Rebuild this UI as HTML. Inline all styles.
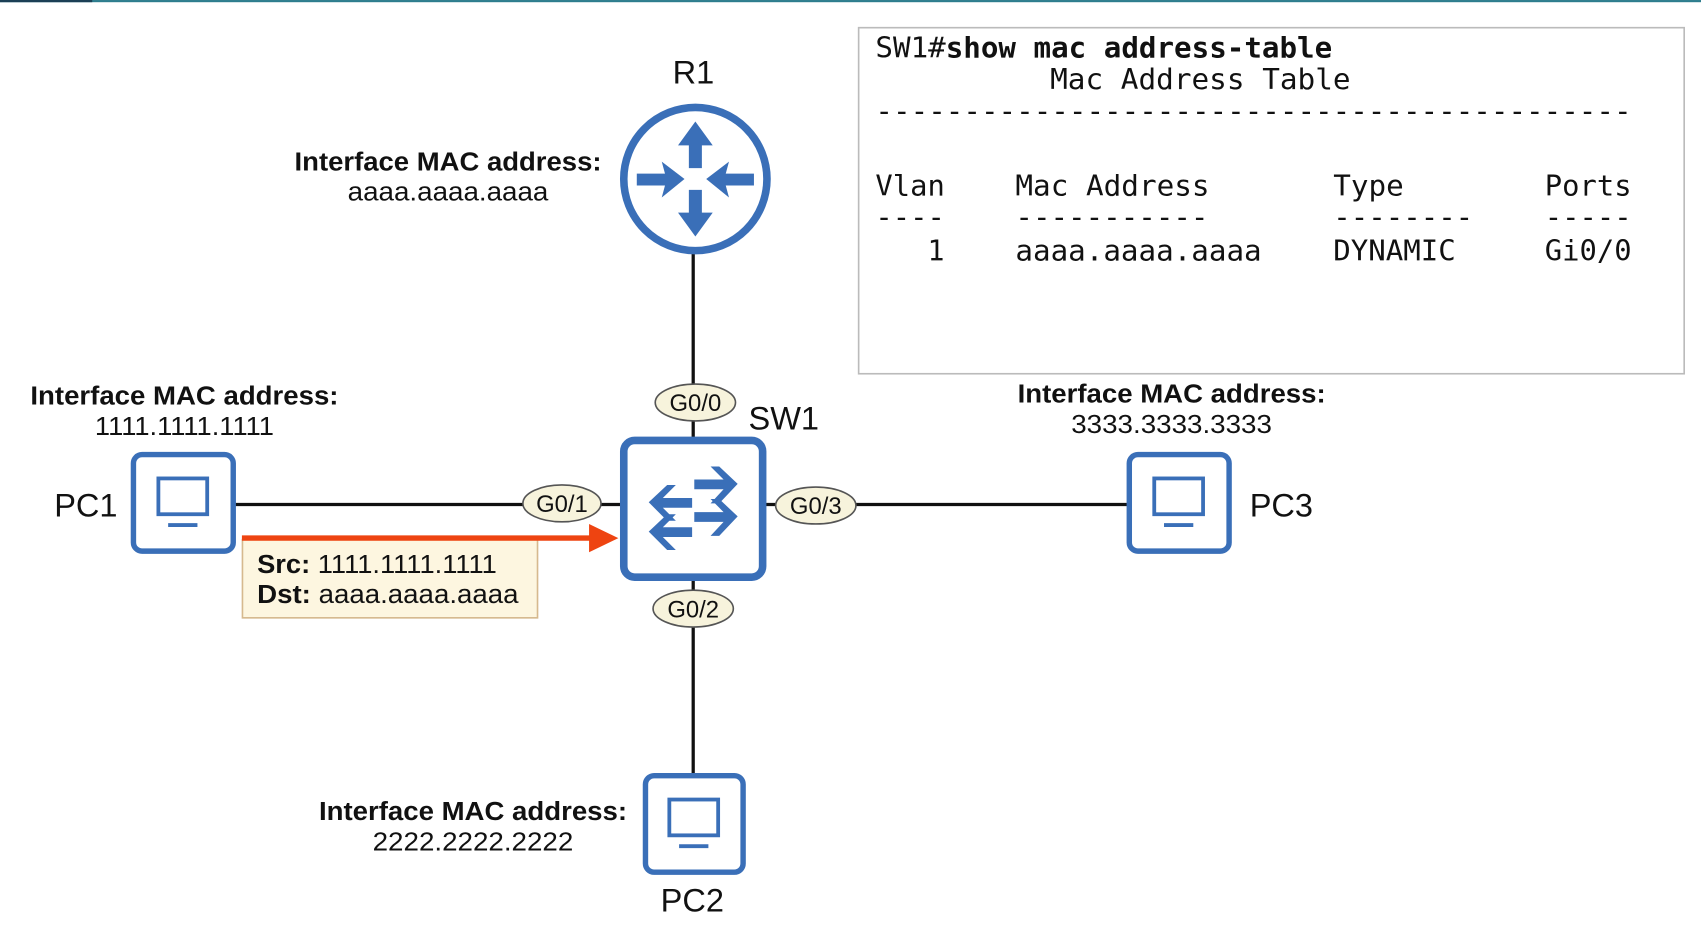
<!DOCTYPE html>
<html><head><meta charset="utf-8"><style>
html,body{margin:0;padding:0;background:#fff;}
svg{display:block;}
text{font-family:"Liberation Sans",sans-serif;fill:#111;}
g.m text{font-family:"DejaVu Sans Mono","Liberation Mono",monospace;font-size:26px;}
</style></head><body>
<svg width="1701" height="933" viewBox="0 0 1568 860" xmlns="http://www.w3.org/2000/svg">
<rect x="0" y="0" width="1568" height="2" fill="#2d7d8e"/>
<rect x="0" y="0" width="85" height="2" fill="#1b3f55"/>
<g stroke="#111" stroke-width="3">
<line x1="639" y1="230" x2="639" y2="406"/>
<line x1="215" y1="465" x2="574" y2="465"/>
<line x1="704" y1="465" x2="1040" y2="465"/>
<line x1="639" y1="533" x2="639" y2="714"/>
</g>
<g>
<circle cx="641" cy="165" r="66" fill="#fff" stroke="#3a6fb8" stroke-width="7"/>
<g fill="#3a6fb8">
<polygon points="641,112 657,134 647,134 647,155 635,155 635,134 625,134"/>
<polygon points="641,218 657,196 647,196 647,175 635,175 635,196 625,196"/>
<polygon points="631,165 610,149 613,160 587,160 587,171 613,171 610,182"/>
<polygon points="651,165 672,149 669,160 695,160 695,171 669,171 672,182"/>
</g>
</g>
<rect x="575" y="406" width="128" height="126" rx="10" fill="#fff" stroke="#3a6fb8" stroke-width="7"/>
<g fill="#3a6fb8">
<polygon points="680,446 663,430 655,430 667,442 640,442 640,451 667,451 655,464 663,464"/>
<polygon points="680,476 663,460 655,460 667,472 640,472 640,481 667,481 655,494 663,494"/>
<polygon points="598,463 615,447 623,447 611,459 638,459 638,468 611,468 623,480 615,480"/>
<polygon points="598,490 615,474 623,474 611,486 638,486 638,495 611,495 623,507 615,507"/>
</g>
<g fill="#fff" stroke="#3a6fb8">
<rect x="123" y="419" width="92" height="89" rx="8" stroke-width="5"/>
<rect x="146" y="441" width="45" height="33" stroke-width="3.5"/>
<line x1="155" y1="484" x2="182" y2="484" stroke-width="3.5"/>
<rect x="1041" y="419" width="92" height="89" rx="8" stroke-width="5"/>
<rect x="1064" y="441" width="45" height="33" stroke-width="3.5"/>
<line x1="1073" y1="484" x2="1100" y2="484" stroke-width="3.5"/>
<rect x="595" y="715" width="90" height="89" rx="8" stroke-width="5"/>
<rect x="617" y="737" width="45" height="33" stroke-width="3.5"/>
<line x1="626" y1="780" x2="653" y2="780" stroke-width="3.5"/>
</g>
<g fill="#f7f3dc" stroke="#555" stroke-width="1.5">
<ellipse cx="641" cy="371" rx="37" ry="17"/>
<ellipse cx="518" cy="464" rx="36" ry="17"/>
<ellipse cx="752" cy="466" rx="37" ry="17"/>
<ellipse cx="639" cy="561" rx="37" ry="17"/>
</g>
<g font-size="22" text-anchor="middle">
<text x="641" y="379">G0/0</text>
<text x="518" y="472">G0/1</text>
<text x="752" y="474">G0/3</text>
<text x="639" y="569">G0/2</text>
</g>
<g font-size="30">
<text x="620" y="77">R1</text>
<text x="690" y="396">SW1</text>
<text x="50" y="476">PC1</text>
<text x="1152" y="476">PC3</text>
<text x="609" y="840">PC2</text>
</g>
<g font-size="24" text-anchor="middle">
<text x="413" y="157" font-weight="bold" textLength="283" lengthAdjust="spacingAndGlyphs">Interface MAC address:</text>
<text x="413" y="185" textLength="185" lengthAdjust="spacingAndGlyphs">aaaa.aaaa.aaaa</text>
<text x="170" y="373" font-weight="bold" textLength="284" lengthAdjust="spacingAndGlyphs">Interface MAC address:</text>
<text x="170" y="401" textLength="165" lengthAdjust="spacingAndGlyphs">1111.1111.1111</text>
<text x="1080" y="371" font-weight="bold" textLength="284" lengthAdjust="spacingAndGlyphs">Interface MAC address:</text>
<text x="1080" y="399" textLength="185" lengthAdjust="spacingAndGlyphs">3333.3333.3333</text>
<text x="436" y="756" font-weight="bold" textLength="284" lengthAdjust="spacingAndGlyphs">Interface MAC address:</text>
<text x="436" y="784" textLength="185" lengthAdjust="spacingAndGlyphs">2222.2222.2222</text>
</g>
<rect x="223.5" y="497.5" width="272" height="72" fill="#fdf6e0" stroke="#d6b98e" stroke-width="1.5"/>
<line x1="223" y1="496" x2="546" y2="496" stroke="#ee4411" stroke-width="5"/>
<polygon points="543,483 570,496 543,509" fill="#ee4411"/>
<g font-size="24">
<text x="237" y="528" textLength="221" lengthAdjust="spacingAndGlyphs"><tspan font-weight="bold">Src:</tspan> 1111.1111.1111</text>
<text x="237" y="556" textLength="241" lengthAdjust="spacingAndGlyphs"><tspan font-weight="bold">Dst:</tspan> aaaa.aaaa.aaaa</text>
</g>
<rect x="791.5" y="25.5" width="761" height="319" fill="#fff" stroke="#bbb" stroke-width="1.5"/>
<g class="m">
<text x="807" y="53" textLength="421" lengthAdjust="spacingAndGlyphs">SW1#<tspan font-weight="bold">show mac address-table</tspan></text>
<text x="968" y="82" textLength="277" lengthAdjust="spacingAndGlyphs">Mac Address Table</text>
<text x="807" y="111" textLength="697" lengthAdjust="spacingAndGlyphs">-------------------------------------------</text>
<text x="807" y="180" textLength="64" lengthAdjust="spacingAndGlyphs">Vlan</text>
<text x="936" y="180" textLength="179" lengthAdjust="spacingAndGlyphs">Mac Address</text>
<text x="1229" y="180" textLength="65" lengthAdjust="spacingAndGlyphs">Type</text>
<text x="1424" y="180" textLength="80" lengthAdjust="spacingAndGlyphs">Ports</text>
<text x="807" y="209" textLength="64" lengthAdjust="spacingAndGlyphs">----</text>
<text x="936" y="209" textLength="178" lengthAdjust="spacingAndGlyphs">-----------</text>
<text x="1229" y="209" textLength="129" lengthAdjust="spacingAndGlyphs">--------</text>
<text x="1424" y="209" textLength="80" lengthAdjust="spacingAndGlyphs">-----</text>
<text x="855" y="240">1</text>
<text x="936" y="240" textLength="227" lengthAdjust="spacingAndGlyphs">aaaa.aaaa.aaaa</text>
<text x="1229" y="240" textLength="113" lengthAdjust="spacingAndGlyphs">DYNAMIC</text>
<text x="1424" y="240" textLength="80" lengthAdjust="spacingAndGlyphs">Gi0/0</text>
</g>
</svg>
</body></html>
